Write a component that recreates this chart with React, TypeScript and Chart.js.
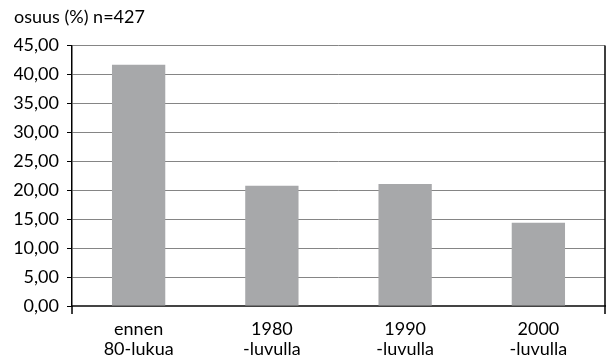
import React, { useEffect, useRef } from "react";
import { Chart, registerables } from "chart.js";

Chart.register(...registerables);

// Decades of origin and share of respondents (%)
const categories: string[][] = [
  ["ennen", "80-lukua"],
  ["1980", "-luvulla"],
  ["1990", "-luvulla"],
  ["2000", "-luvulla"],
];
const shares: number[] = [41.7, 20.8, 21.1, 14.4];
const titleText = "osuus (%) n=427";
const yMax = 45;
const yStep = 5;

const FONT = "Lato, 'DejaVu Sans', sans-serif";

// Frames the plot on the right and adds the short end ticks under the category axis
const frame = {
  id: "frame",
  afterDraw(chart: any) {
    const { ctx, chartArea } = chart;
    ctx.save();
    ctx.strokeStyle = "#000";
    ctx.lineWidth = 1.5;
    ctx.beginPath();
    ctx.moveTo(chartArea.right, chartArea.top);
    ctx.lineTo(chartArea.right, chartArea.bottom + 8);
    ctx.moveTo(chartArea.left, chartArea.bottom);
    ctx.lineTo(chartArea.left, chartArea.bottom + 8);
    ctx.stroke();
    ctx.restore();
  },
};

export default function App() {
  const ref = useRef<HTMLCanvasElement>(null);

  useEffect(() => {
    if (!ref.current) return;
    const chart = new Chart(ref.current, {
      type: "bar",
      data: {
        labels: categories,
        datasets: [
          {
            data: shares,
            backgroundColor: "#a7a8aa",
            borderWidth: 0,
            barPercentage: 0.8,
            categoryPercentage: 0.5,
          },
        ],
      },
      options: {
        animation: false,
        responsive: false,
        layout: { padding: { left: 14, right: 2, top: 0, bottom: 0 } },
        plugins: {
          legend: { display: false },
          tooltip: { enabled: false },
          title: {
            display: true,
            text: titleText,
            align: "start",
            color: "#000",
            font: { family: FONT, size: 18, weight: "normal", lineHeight: 1.2 },
            padding: { top: 6, bottom: 18 },
          },
        },
        scales: {
          x: {
            grid: { display: false },
            border: { color: "#444", width: 2 },
            afterFit: (s: any) => {
              s.height = 54;
            },
            ticks: {
              color: "#000",
              font: { family: FONT, size: 18, lineHeight: 1.1 },
              padding: 5,
              maxRotation: 0,
            },
          },
          y: {
            min: 0,
            max: yMax,
            afterFit: (s: any) => {
              s.width = 58;
            },
            grid: {
              color: "#858585",
              tickColor: "#000",
              tickLength: 5,
              lineWidth: 1,
            },
            border: { color: "#000", width: 1.5 },
            ticks: {
              stepSize: yStep,
              color: "#000",
              font: { family: FONT, size: 18 },
              padding: 8,
              callback: (v: any) => Number(v).toFixed(2).replace(".", ","),
            },
          },
        },
      },
      plugins: [frame],
    });
    return () => chart.destroy();
  }, []);

  return (
    <div style={{ position: "fixed", left: 0, top: 0, width: 607, height: 360, background: "#fff" }}>
      <canvas ref={ref} width={607} height={360} />
    </div>
  );
}
